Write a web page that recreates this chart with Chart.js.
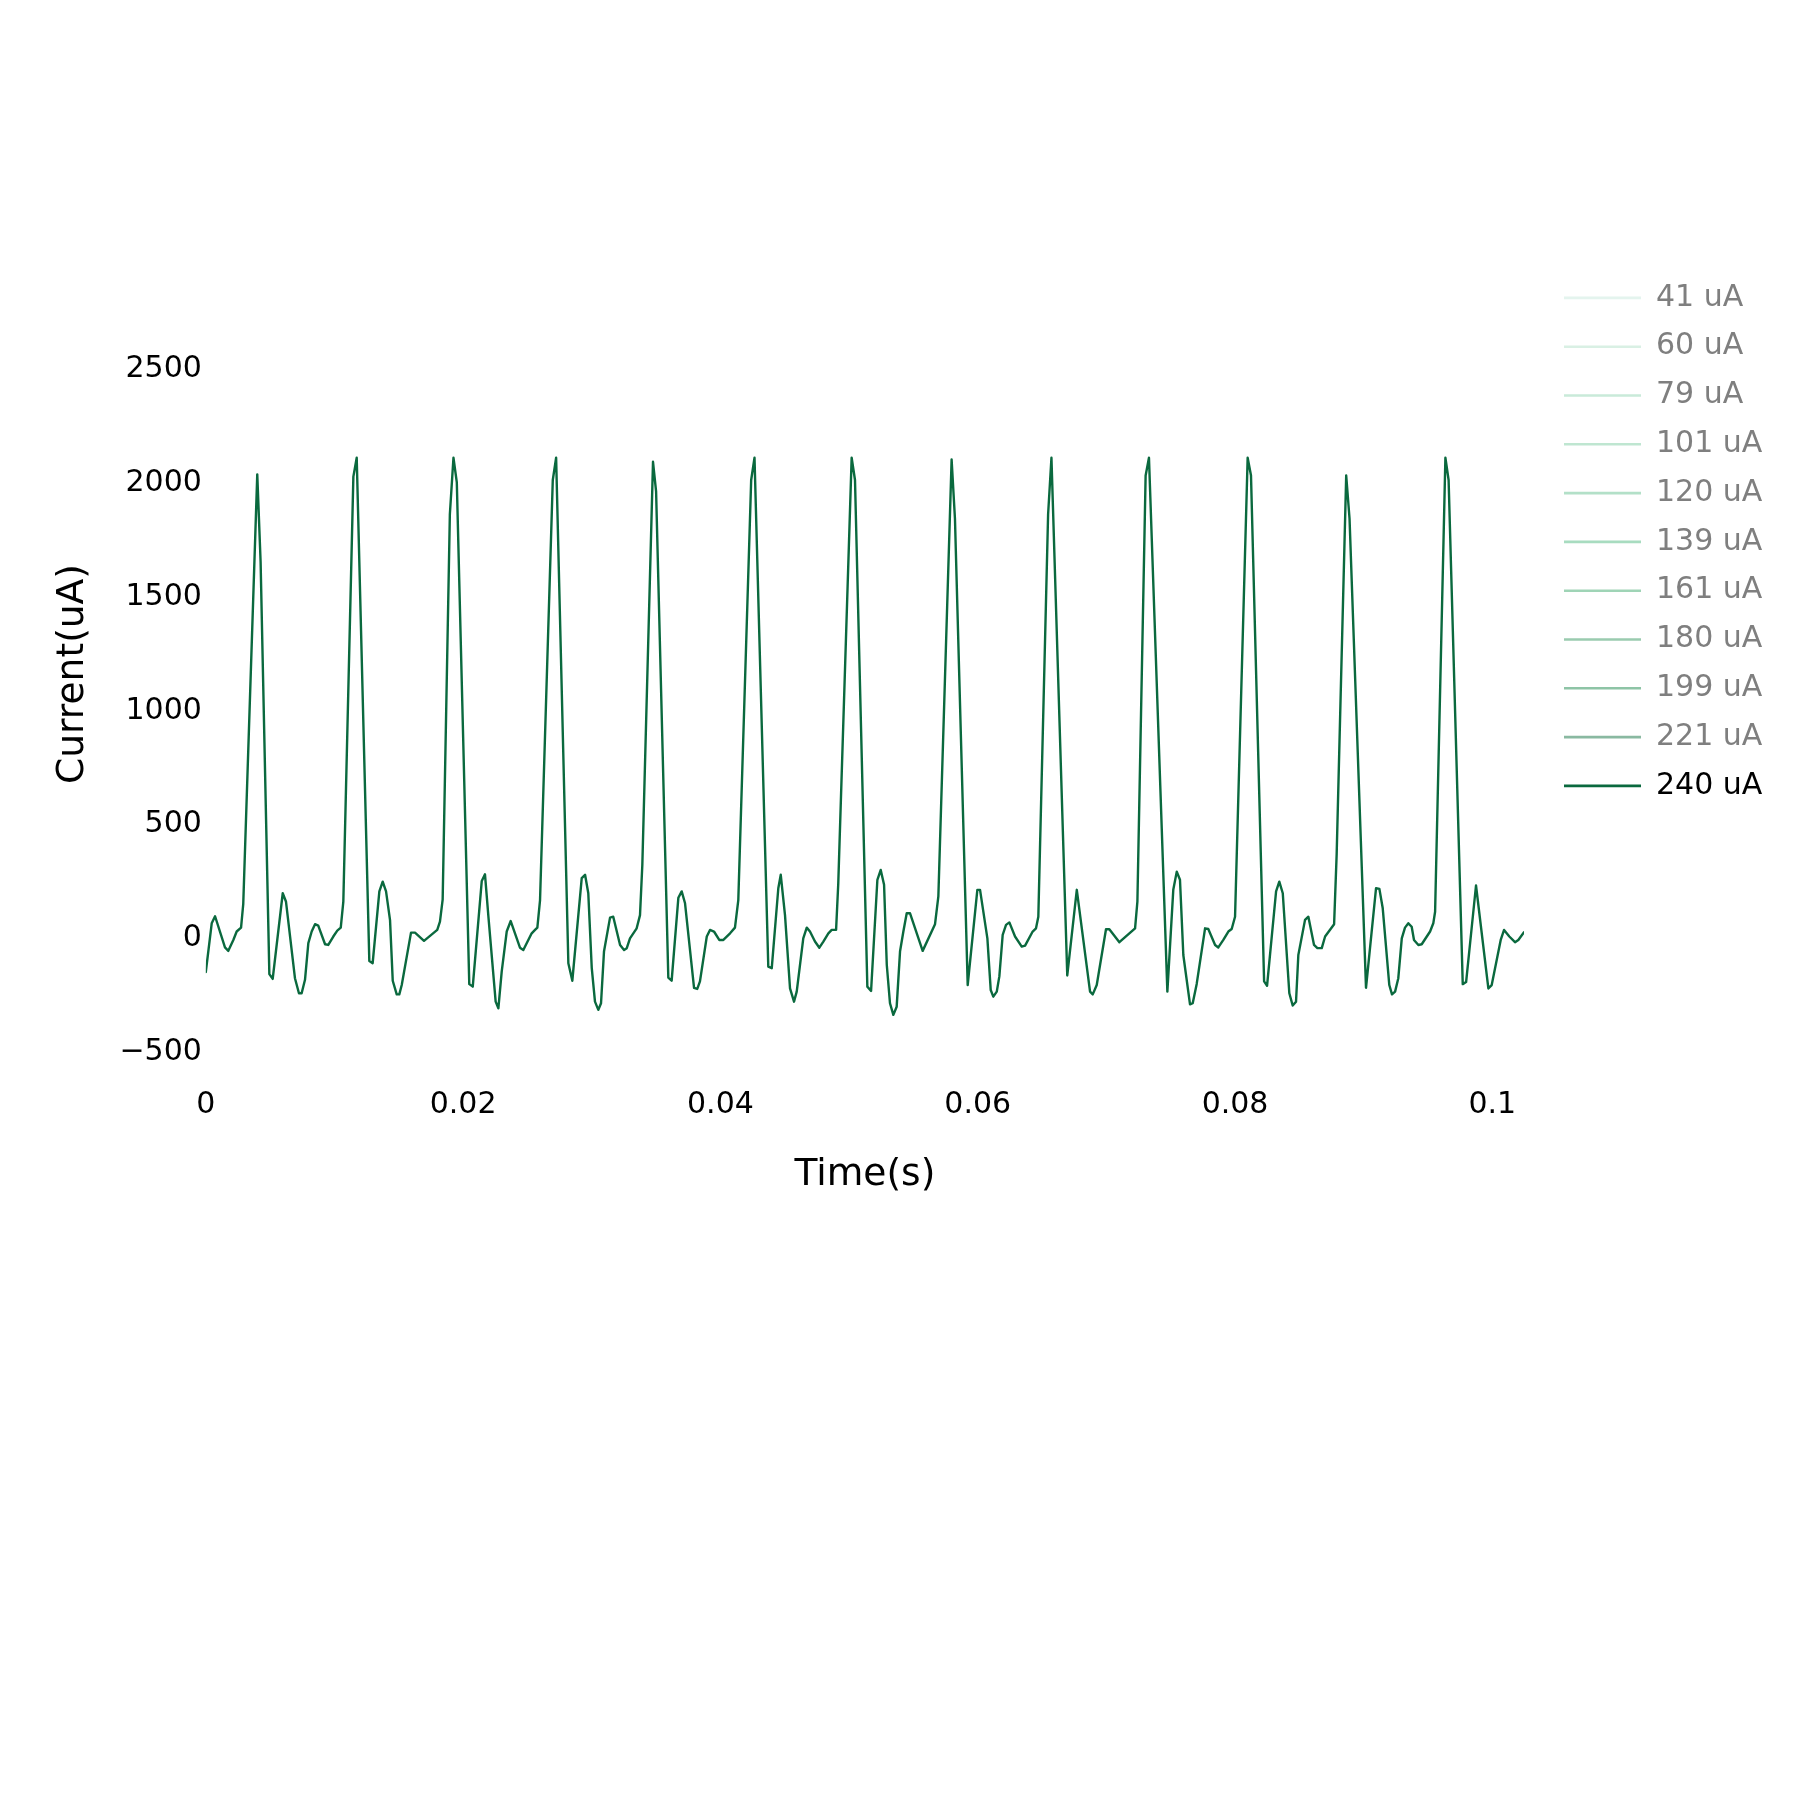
<!DOCTYPE html>
<html>
<head>
<meta charset="utf-8">
<script src="https://cdn.jsdelivr.net/npm/chart.js@4"></script>
<style>
html, body { margin: 0; padding: 0; background: #fff; }
canvas { display: block; }
</style>
</head>
<body>
<canvas id="myChart" width="1800" height="1800"></canvas>
<script>
// legend entries (only the last one is shown on the plot)
const seriesNames = ['41 uA', '60 uA', '79 uA', '101 uA', '120 uA', '139 uA', '161 uA', '180 uA', '199 uA', '221 uA', '240 uA'];
const seriesColors = ['#e4f4ee', '#d9f0e4', '#c9ead9', '#bfe6d1', '#b3e0c8', '#a8dcc0', '#9fd4b6', '#9acbaf', '#8ec4a6', '#8ab9a1', '#0a693e'];

// 240 uA trace
const timeS = [
  0.00000, 0.00046, 0.00072, 0.00149, 0.00175, 0.00214, 0.00240, 0.00274, 0.00291, 0.00400,
  0.00426, 0.00494, 0.00520, 0.00598, 0.00623, 0.00693, 0.00724, 0.00745, 0.00771, 0.00797,
  0.00823, 0.00849, 0.00874, 0.00927, 0.00952, 0.00991, 0.01022, 0.01049, 0.01069, 0.01147,
  0.01173, 0.01271, 0.01297, 0.01349, 0.01375, 0.01401, 0.01432, 0.01453, 0.01484, 0.01504,
  0.01523, 0.01595, 0.01626, 0.01696, 0.01799, 0.01820, 0.01841, 0.01897, 0.01925, 0.01951,
  0.02048, 0.02075, 0.02145, 0.02170, 0.02196, 0.02253, 0.02274, 0.02300, 0.02339, 0.02370,
  0.02442, 0.02468, 0.02533, 0.02559, 0.02577, 0.02598, 0.02697, 0.02723, 0.02818, 0.02849,
  0.02922, 0.02948, 0.02973, 0.03000, 0.03025, 0.03051, 0.03072, 0.03095, 0.03142, 0.03167,
  0.03220, 0.03251, 0.03272, 0.03297, 0.03349, 0.03375, 0.03393, 0.03476, 0.03500, 0.03595,
  0.03621, 0.03673, 0.03699, 0.03725, 0.03795, 0.03820, 0.03841, 0.03894, 0.03919, 0.03950,
  0.03991, 0.04023, 0.04075, 0.04113, 0.04139, 0.04239, 0.04265, 0.04372, 0.04399, 0.04450,
  0.04469, 0.04502, 0.04541, 0.04572, 0.04593, 0.04644, 0.04671, 0.04696, 0.04735, 0.04769,
  0.04800, 0.04839, 0.04865, 0.04899, 0.04916, 0.05020, 0.05046, 0.05142, 0.05171, 0.05220,
  0.05246, 0.05272, 0.05293, 0.05318, 0.05344, 0.05370, 0.05396, 0.05422, 0.05448, 0.05474,
  0.05572, 0.05668, 0.05694, 0.05797, 0.05823, 0.05922, 0.05997, 0.06018, 0.06075, 0.06101,
  0.06121, 0.06148, 0.06168, 0.06194, 0.06220, 0.06246, 0.06290, 0.06342, 0.06368, 0.06427,
  0.06453, 0.06471, 0.06547, 0.06573, 0.06696, 0.06770, 0.06873, 0.06894, 0.06925, 0.06997,
  0.07023, 0.07101, 0.07223, 0.07241, 0.07305, 0.07331, 0.07474, 0.07520, 0.07547, 0.07572,
  0.07598, 0.07650, 0.07671, 0.07702, 0.07767, 0.07792, 0.07845, 0.07870, 0.07909, 0.07948,
  0.07974, 0.08000, 0.08098, 0.08124, 0.08226, 0.08249, 0.08319, 0.08344, 0.08371, 0.08422,
  0.08448, 0.08474, 0.08492, 0.08544, 0.08570, 0.08614, 0.08640, 0.08674, 0.08700, 0.08770,
  0.08790, 0.08864, 0.08890, 0.09018, 0.09096, 0.09122, 0.09148, 0.09199, 0.09220, 0.09244,
  0.09269, 0.09296, 0.09321, 0.09347, 0.09373, 0.09391, 0.09425, 0.09451, 0.09516, 0.09541,
  0.09555, 0.09635, 0.09660, 0.09770, 0.09796, 0.09873, 0.09969, 0.09995, 0.10065, 0.10091,
  0.10132, 0.10176, 0.10202, 0.10246
];
const current240 = [
  -147, 67, 98, -39, -54, -6, 31, 48, 151, 2038,
  1653, -156, -177, 199, 163, -174, -240, -240, -181, -20,
  31, 63, 57, -25, -28, 9, 35, 48, 162, 2028,
  2111, -98, -108, 207, 250, 207, 81, -185, -245, -245,
  -204, 26, 26, -10, 38, 74, 171, 1863, 2111, 2003,
  -200, -211, 253, 282, 101, -277, -306, -145, 31, 77,
  -40, -50, 23, 38, 48, 169, 2013, 2111, -108, -185,
  265, 280, 199, -130, -277, -313, -284, -57, 92, 96,
  -28, -50, -42, 1, 45, 103, 323, 2093, 1963, -171,
  -185, 179, 207, 155, -216, -221, -188, 9, 38, 31,
  -6, -6, 23, 48, 169, 2013, 2111, -123, -130, 221,
  280, 103, -219, -277, -233, 1, 48, 31, -13, -40,
  -13, 23, 38, 38, 242, 2111, 2013, -211, -230, 258,
  301, 236, -115, -284, -335, -299, -57, 31, 111, 111,
  -54, 63, 185, 2103, 1843, -204, 214, 214, 1, -226,
  -255, -233, -166, 16, 60, 71, 9, -35, -31, 31,
  45, 96, 1863, 2111, -162, 214, -233, -245, -204, 41,
  41, -16, 45, 162, 2033, 2111, -233, 214, 294, 258,
  -72, -289, -284, -199, 45, 42, -28, -39, -6, 31,
  42, 96, 2111, 2033, -188, -207, 207, 250, 199, -240,
  -294, -277, -72, 82, 96, -28, -42, -42, 9, 63,
  372, 2033, 1843, -216, 221, 218, 133, -204, -245, -233,
  -174, 1, 48, 67, 52, -6, -28, -25, 31, 67,
  118, 2111, 2013, -200, -191, 233, -219, -204, -6, 38,
  9, -16, -6, 28
];

const xTickValues = [0, 0.02, 0.04, 0.06, 0.08, 0.1];
const xTickLabels = ['0', '0.02', '0.04', '0.06', '0.08', '0.1'];
const yTickValues = [-500, 0, 500, 1000, 1500, 2000, 2500];
const yTickLabels = ['\u2212500', '0', '500', '1000', '1500', '2000', '2500'];

Chart.defaults.font.family = "'DejaVu Sans', Verdana, sans-serif";

const datasets = seriesNames.map((name, i) => {
  const last = i === seriesNames.length - 1;
  return {
    label: name,
    data: last ? timeS.map((t, k) => ({ x: t, y: current240[k] })) : [],
    hidden: !last,
    borderColor: seriesColors[i],
    backgroundColor: seriesColors[i],
    borderWidth: 2.4,
    borderJoinStyle: 'round',
    borderCapStyle: 'round',
    pointRadius: 0,
    tension: 0,
    fill: false
  };
});

// the legend sits a little away from the plot area
const legendOffset = {
  id: 'legendOffset',
  afterLayout(chart) {
    chart.legend.left += 21.2;
    chart.legend.right += 21.2;
  }
};

const ctx = document.getElementById('myChart').getContext('2d');
const myChart = new Chart(ctx, {
  type: 'line',
  data: { datasets: datasets },
  plugins: [legendOffset],
  options: {
    responsive: false,
    animation: false,
    devicePixelRatio: 1,
    layout: {
      autoPadding: false,
      padding: { left: 0, top: 264.1, right: 56, bottom: 602.3 }
    },
    plugins: {
      tooltip: { enabled: false },
      legend: {
        position: 'right',
        align: 'start',
        maxWidth: 220,
        labels: {
          boxWidth: 77,
          boxHeight: 2.6,
          padding: 18.8,
          font: { size: 30 },
          generateLabels: chart => chart.data.datasets.map((ds, i) => ({
            text: ds.label,
            fillStyle: ds.borderColor,
            strokeStyle: ds.borderColor,
            lineWidth: 0,
            hidden: false,
            fontColor: ds.hidden ? '#7f7f7f' : '#000000',
            datasetIndex: i
          }))
        }
      }
    },
    scales: {
      x: {
        type: 'linear',
        min: 0,
        max: 0.10246,
        grid: { display: false, drawTicks: false },
        border: { display: false },
        afterBuildTicks: scale => { scale.ticks = xTickValues.map(v => ({ value: v })); },
        afterFit: scale => { scale.height = 113.8; },
        ticks: {
          padding: 3,
          color: '#000',
          maxRotation: 0,
          autoSkip: false,
          font: { size: 30 },
          callback: value => xTickLabels[xTickValues.indexOf(value)]
        },
        title: {
          display: true,
          text: 'Time(s)',
          color: '#000',
          font: { size: 37.6 },
          padding: { top: 0, bottom: 0 }
        }
      },
      y: {
        type: 'linear',
        min: -638,
        max: 2961,
        grid: { display: false, drawTicks: false },
        border: { display: false },
        afterBuildTicks: scale => { scale.ticks = yTickValues.map(v => ({ value: v })); },
        afterFit: scale => { scale.width = 205.8; },
        ticks: {
          padding: 4,
          color: '#000',
          autoSkip: false,
          font: { size: 30 },
          callback: value => yTickLabels[yTickValues.indexOf(value)]
        },
        title: {
          display: true,
          text: 'Current(uA)',
          color: '#000',
          font: { size: 37.6 },
          padding: { top: 50.7, bottom: 0 }
        }
      }
    }
  }
});
</script>
</body>
</html>
